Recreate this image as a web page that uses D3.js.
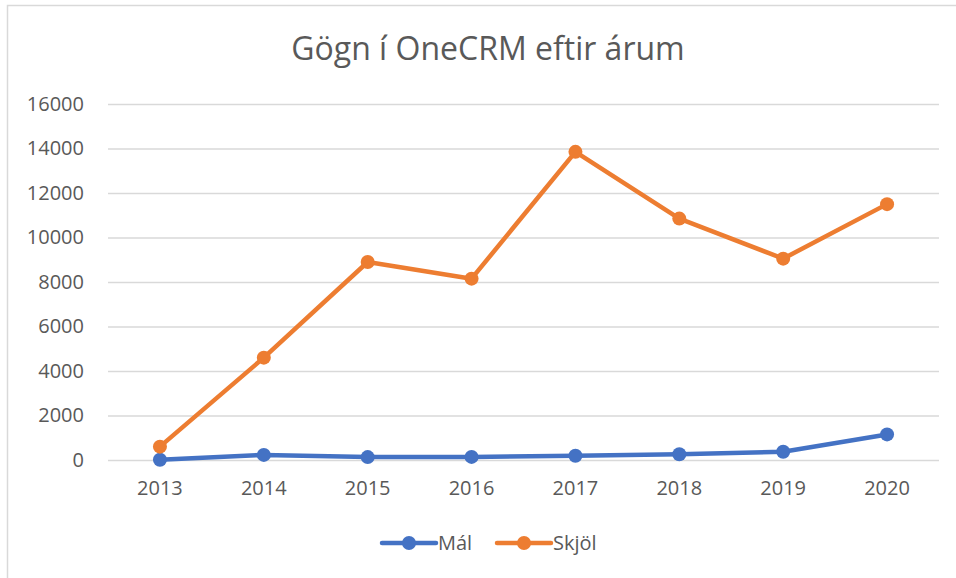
<!DOCTYPE html>
<html>
<head>
<meta charset="utf-8">
<script src="https://cdn.jsdelivr.net/npm/d3@7"></script>
<style>
  body { margin: 0; background: #fff; }
  text { font-family: "Open Sans", "Noto Sans", sans-serif; fill: #595959; }
</style>
</head>
<body>
<div id="chart"></div>
<script>
const years = ['2013', '2014', '2015', '2016', '2017', '2018', '2019', '2020'];
const malValues = [10, 230, 130, 140, 190, 260, 370, 1150];
const skjolValues = [600, 4600, 8900, 8150, 13850, 10850, 9050, 11500];
const yTicks = [0, 2000, 4000, 6000, 8000, 10000, 12000, 14000, 16000];
const seriesNames = ['Mál', 'Skjöl'];
const seriesColors = ['#4472C4', '#ED7D31'];

const W = 956, H = 578;
const margin = { top: 104, right: 17, bottom: 118, left: 108 };
const width = W - margin.left - margin.right;
const height = H - margin.top - margin.bottom;

const svg = d3.select('#chart').append('svg')
  .attr('width', W)
  .attr('height', H);

// outer chart frame
svg.append('rect')
  .attr('x', 7.5).attr('y', 5.5)
  .attr('width', W).attr('height', H)
  .attr('fill', 'none')
  .attr('stroke', '#d9d9d9')
  .attr('stroke-width', 1.5);

svg.append('text')
  .attr('x', 488).attr('y', 60)
  .attr('text-anchor', 'middle')
  .style('font-size', '32px')
  .text('Gögn í OneCRM eftir árum');

const g = svg.append('g')
  .attr('transform', 'translate(' + margin.left + ',' + margin.top + ')');

const x = d3.scaleBand().domain(years).range([0, width]);
const y = d3.scaleLinear().domain([0, 16000]).range([height, 0]);

// grid lines
g.append('g')
  .call(d3.axisLeft(y).tickValues(yTicks).tickSize(-width).tickFormat(''))
  .call(a => a.select('.domain').remove())
  .selectAll('line')
  .attr('stroke', '#d9d9d9')
  .attr('stroke-width', 1.3);

// y labels
g.append('g')
  .call(d3.axisLeft(y).tickValues(yTicks).tickSize(0).tickPadding(24).tickFormat(d3.format('d')))
  .call(a => a.select('.domain').remove())
  .selectAll('text')
  .style('font-size', '20px')
  .style('fill', '#595959');

// x labels
g.append('g')
  .attr('transform', 'translate(0,' + height + ')')
  .call(d3.axisBottom(x).tickSize(0).tickPadding(21))
  .call(a => a.select('.domain').remove())
  .selectAll('text')
  .style('font-size', '20px')
  .style('fill', '#595959');

const line = d3.line()
  .x((d, i) => x(years[i]) + x.bandwidth() / 2)
  .y(d => y(d));

[malValues, skjolValues].forEach((vals, k) => {
  g.append('path')
    .attr('d', line(vals))
    .attr('fill', 'none')
    .attr('stroke', seriesColors[k])
    .attr('stroke-width', 4.5)
    .attr('stroke-linejoin', 'round');
  g.selectAll('.dot' + k)
    .data(vals)
    .enter()
    .append('circle')
    .attr('cx', (d, i) => x(years[i]) + x.bandwidth() / 2)
    .attr('cy', d => y(d))
    .attr('r', 7)
    .attr('fill', seriesColors[k]);
});

// legend
const legend = svg.append('g').attr('transform', 'translate(382,543)');
const legendX = [0, 115];
seriesNames.forEach((name, k) => {
  const lg = legend.append('g').attr('transform', 'translate(' + legendX[k] + ',0)');
  lg.append('line')
    .attr('x1', 0).attr('x2', 54)
    .attr('stroke', seriesColors[k])
    .attr('stroke-width', 4.5)
    .attr('stroke-linecap', 'round');
  lg.append('circle').attr('cx', 27).attr('r', 7).attr('fill', seriesColors[k]);
  lg.append('text')
    .attr('x', 56).attr('y', 7)
    .style('font-size', '20px')
    .text(name);
});
</script>
</body>
</html>
